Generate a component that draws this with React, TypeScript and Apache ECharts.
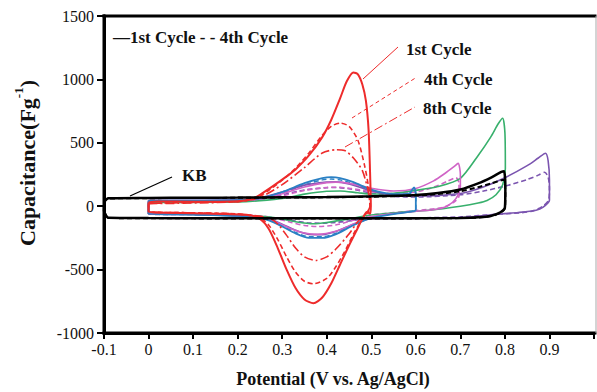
import React, { useEffect, useRef } from "react";
import * as echarts from "echarts";

// ---- Data (x: potential V vs Ag/AgCl, y: capacitance F/g) ----
const xTickMin = -0.1;
const xTickMax = 1.0;
const yTickMin = -1000;
const yTickMax = 1500;

const redCycle1: [number, number][] = [
  [0, 30], [0.02, 38], [0.1, 36], [0.2, 40], [0.23, 55], [0.25, 90], [0.28, 160], [0.31, 235],
  [0.33, 290], [0.36, 400], [0.39, 545], [0.41, 680], [0.43, 850], [0.445, 985], [0.46, 1055],
  [0.47, 1040], [0.48, 960], [0.488, 830], [0.494, 600], [0.497, 300], [0.499, 0], [0.497, -60],
  [0.49, -45], [0.48, -100], [0.47, -170], [0.45, -310], [0.43, -460], [0.41, -610], [0.39, -720],
  [0.37, -765], [0.35, -735], [0.33, -645], [0.31, -500], [0.29, -330], [0.27, -180], [0.25, -100],
  [0.22, -68], [0.1, -55], [0.02, -50], [0, -40], [0, 30],
];
const redCycle4: [number, number][] = [
  [0, 22], [0.1, 30], [0.2, 36], [0.24, 62], [0.27, 125], [0.3, 205], [0.33, 300], [0.36, 420],
  [0.39, 560], [0.41, 630], [0.43, 655], [0.45, 630], [0.47, 520], [0.485, 320], [0.494, 150],
  [0.498, 0], [0.494, -40], [0.48, -100], [0.46, -220], [0.44, -360], [0.42, -480], [0.4, -570],
  [0.37, -612], [0.35, -592], [0.33, -520], [0.31, -400], [0.29, -262], [0.27, -150], [0.25, -92],
  [0.2, -62], [0.1, -52], [0, -42], [0, 22],
];
const redCycle8: [number, number][] = [
  [0, 20], [0.2, 35], [0.25, 70], [0.3, 170], [0.35, 305], [0.39, 420], [0.42, 445], [0.44, 440],
  [0.46, 380], [0.48, 280], [0.493, 120], [0.497, 0], [0.49, -50], [0.47, -120], [0.45, -220],
  [0.42, -340], [0.4, -400], [0.375, -428], [0.35, -400], [0.33, -330], [0.31, -230], [0.29, -140],
  [0.27, -92], [0.2, -62], [0.1, -52], [0, -42], [0, 20],
];
const blueCycle1: [number, number][] = [
  [0, 42], [0.1, 44], [0.2, 47], [0.25, 62], [0.3, 112], [0.35, 182], [0.39, 222], [0.41, 230],
  [0.43, 222], [0.46, 190], [0.5, 130], [0.55, 95], [0.585, 100], [0.596, 148], [0.6, 100],
  [0.6, -30], [0.59, -42], [0.55, -62], [0.5, -92], [0.46, -150], [0.42, -222], [0.39, -250],
  [0.36, -250], [0.33, -215], [0.3, -160], [0.27, -112], [0.23, -82], [0.1, -66], [0, -60], [0, 42],
];
const blueCycle4: [number, number][] = [
  [0, 36], [0.1, 40], [0.2, 44], [0.25, 58], [0.3, 102], [0.35, 168], [0.39, 208], [0.41, 214],
  [0.43, 208], [0.46, 178], [0.5, 124], [0.55, 90], [0.585, 94], [0.596, 130], [0.6, 90],
  [0.6, -28], [0.59, -40], [0.55, -60], [0.5, -90], [0.46, -146], [0.42, -215], [0.39, -240],
  [0.36, -240], [0.33, -206], [0.3, -154], [0.27, -108], [0.23, -80], [0.1, -64], [0, -58], [0, 36],
];
const pinkCycle1: [number, number][] = [
  [0, 40], [0.2, 44], [0.25, 58], [0.3, 98], [0.35, 152], [0.4, 186], [0.42, 190], [0.45, 180],
  [0.5, 142], [0.55, 120], [0.6, 140], [0.64, 200], [0.666, 260], [0.685, 310], [0.695, 338],
  [0.7, 250], [0.7, 150], [0.69, 60], [0.67, 0], [0.64, -28], [0.6, -40], [0.5, -82], [0.46, -140],
  [0.42, -198], [0.38, -222], [0.35, -212], [0.32, -178], [0.29, -130], [0.26, -95], [0.2, -75],
  [0.1, -62], [0, -58], [0, 40],
];
const pinkCycle4: [number, number][] = [
  [0, 34], [0.2, 38], [0.25, 50], [0.3, 82], [0.35, 125], [0.4, 148], [0.42, 150], [0.45, 142],
  [0.5, 115], [0.55, 100], [0.6, 112], [0.64, 150], [0.67, 195], [0.69, 225], [0.697, 180],
  [0.697, 80], [0.685, 30], [0.66, -10], [0.6, -35], [0.5, -70], [0.46, -110], [0.42, -148],
  [0.38, -160], [0.35, -152], [0.32, -128], [0.29, -100], [0.26, -80], [0.2, -68], [0.1, -60],
  [0, -56], [0, 34],
];
const greenCycle1: [number, number][] = [
  [0, 30], [0.2, 33], [0.3, 62], [0.35, 95], [0.4, 118], [0.43, 120], [0.47, 106], [0.5, 96],
  [0.55, 102], [0.6, 125], [0.65, 155], [0.7, 220], [0.74, 400], [0.768, 545], [0.785, 650],
  [0.795, 694], [0.8, 580], [0.801, 300], [0.795, 170], [0.78, 90], [0.76, 45], [0.74, 25],
  [0.7, 0], [0.63, -32], [0.56, -50], [0.5, -70], [0.45, -100], [0.4, -128], [0.37, -138],
  [0.33, -122], [0.3, -100], [0.25, -80], [0.1, -65], [0, -60], [0, 30],
];
const purpleCycle1: [number, number][] = [
  [0, 46], [0.2, 50], [0.25, 66], [0.3, 112], [0.35, 166], [0.4, 190], [0.42, 192], [0.45, 176],
  [0.5, 122], [0.55, 85], [0.6, 80], [0.7, 100], [0.75, 150], [0.8, 225], [0.85, 320], [0.875, 380],
  [0.891, 418], [0.897, 360], [0.9, 205], [0.9, 47], [0.885, -10], [0.87, -32], [0.83, -50],
  [0.795, -60], [0.7, -90], [0.6, -96], [0.5, -98], [0.46, -142], [0.42, -200], [0.39, -224],
  [0.36, -222], [0.33, -190], [0.3, -142], [0.27, -102], [0.2, -76], [0.1, -66], [0, -62], [0, 46],
];
const purpleCycle4: [number, number][] = [
  [0, 40], [0.2, 44], [0.25, 56], [0.3, 90], [0.35, 128], [0.4, 146], [0.42, 148], [0.45, 138],
  [0.5, 104], [0.55, 78], [0.6, 72], [0.7, 90], [0.75, 118], [0.8, 158], [0.85, 210], [0.875, 245],
  [0.889, 268], [0.897, 230], [0.9, 140], [0.898, 47], [0.885, 0], [0.86, -40], [0.82, -56],
  [0.78, -64], [0.7, -84], [0.6, -92], [0.5, -96], [0.46, -112], [0.42, -128], [0.39, -134],
  [0.36, -132], [0.33, -118], [0.3, -100], [0.27, -86], [0.2, -74], [0.1, -66], [0, -62], [0, 40],
];
const kbCycle1: [number, number][] = [
  [-0.1, -40], [-0.098, 40], [-0.09, 62], [0, 65], [0.1, 67], [0.2, 68], [0.3, 70], [0.4, 72],
  [0.5, 78], [0.6, 88], [0.65, 104], [0.7, 132], [0.74, 180], [0.77, 228], [0.792, 270],
  [0.798, 276], [0.801, 150], [0.8, -10], [0.79, -48], [0.77, -75], [0.74, -88], [0.7, -93],
  [0.5, -96], [0.3, -96], [0.1, -95], [0, -94], [-0.09, -92], [-0.1, -40],
];
const kbCycle4: [number, number][] = [
  [-0.1, -38], [-0.098, 38], [-0.09, 60], [0, 63], [0.1, 65], [0.2, 66], [0.3, 68], [0.4, 70],
  [0.5, 75], [0.6, 84], [0.65, 96], [0.7, 118], [0.74, 150], [0.77, 180], [0.792, 205],
  [0.798, 208], [0.801, 100], [0.8, -20], [0.79, -52], [0.77, -78], [0.74, -90], [0.7, -94],
  [0.5, -97], [0.3, -97], [0.1, -96], [0, -95], [-0.09, -93], [-0.1, -38],
];

const SERIF = "'Liberation Serif', 'Times New Roman', serif";
const RED = "#ee2b2b";
const BLUE = "#2a80c4";
const PINK = "#d064c6";
const GREEN = "#38b06c";
const PURPLE = "#7b55b0";
const BLACK = "#000000";
const TEXT = "#111111";
const FRAME = "#000000";

function mk(data: [number, number][], color: string, type: any, width: number) {
  return {
    type: "line",
    data,
    showSymbol: false,
    symbol: "none",
    smooth: 0.25,
    lineStyle: { color, width, type },
    silent: true,
  };
}

function label(text: string, x: number, y: number) {
  return {
    type: "text", x, y,
    style: { text, fontFamily: SERIF, fontWeight: "bold", fontSize: 17, fill: TEXT, textVerticalAlign: "middle" },
  };
}

export default function App() {
  const ref = useRef<HTMLDivElement>(null);
  useEffect(() => {
    if (!ref.current) return;
    const chart = echarts.init(ref.current, undefined, { renderer: "svg" });
    const dash = [5, 3];
    const dashDot = [9, 3, 2, 3];
    const option: any = {
      animation: false,
      grid: { left: 104, right: 1, top: 16, bottom: 59 },
      xAxis: {
        type: "value",
        min: xTickMin,
        max: xTickMax,
        interval: 0.1,
        axisLine: { show: true, onZero: false, lineStyle: { color: FRAME, width: 3 } },
        axisTick: { show: true, length: 6, lineStyle: { color: FRAME, width: 2 } },
        splitLine: { show: false },
        axisLabel: {
          margin: 8,
          color: TEXT,
          fontFamily: SERIF,
          fontSize: 16,
          formatter: (v: number) => {
            const r = Math.round(v * 10) / 10;
            if (r >= 1) return "";
            return r === 0 ? "0" : String(r);
          },
        },
      },
      yAxis: {
        type: "value",
        min: yTickMin,
        max: yTickMax,
        interval: 500,
        axisLine: { show: true, onZero: false, lineStyle: { color: FRAME, width: 3 } },
        axisTick: { show: true, length: 7, lineStyle: { color: FRAME, width: 2 } },
        splitLine: { show: false },
        axisLabel: {
          margin: 10,
          color: TEXT,
          fontFamily: SERIF,
          fontSize: 16,
          formatter: (v: number) => String(Math.round(v)),
        },
      },
      series: [
        mk(purpleCycle4, PURPLE, dash, 1.6),
        mk(pinkCycle4, PINK, dash, 1.6),
        mk(blueCycle4, BLUE, dash, 1.4),
        mk(greenCycle1, GREEN, "solid", 1.6),
        mk(purpleCycle1, PURPLE, "solid", 1.6),
        mk(pinkCycle1, PINK, "solid", 1.6),
        mk(blueCycle1, BLUE, "solid", 1.8),
        mk(redCycle8, RED, dashDot, 1.6),
        mk(redCycle4, RED, dash, 1.6),
        mk(redCycle1, RED, "solid", 2),
        mk(kbCycle4, BLACK, dash, 2),
        mk(kbCycle1, BLACK, "solid", 2.5),
      ],
      graphic: [
        // frame: thick black top / left / bottom, thin grey right
        { type: "rect", z: 100, shape: { x: 102.5, y: 14.5, width: 494, height: 3 }, style: { fill: FRAME } },
        { type: "rect", z: 100, shape: { x: 102.5, y: 14.5, width: 3, height: 320 }, style: { fill: FRAME } },
        { type: "rect", z: 100, shape: { x: 102.5, y: 331.5, width: 494, height: 3 }, style: { fill: FRAME } },
        { type: "rect", z: 100, shape: { x: 595.5, y: 16, width: 1, height: 317 }, style: { fill: "#aaaaaa" } },
        label("\u20141st Cycle - - 4th Cycle", 113, 37),
        { type: "line", shape: { x1: 363, y1: 79, x2: 398, y2: 47 }, style: { stroke: RED, lineWidth: 1 } },
        { type: "line", shape: { x1: 352, y1: 118, x2: 417, y2: 77 }, style: { stroke: RED, lineWidth: 1, lineDash: [4, 3] } },
        { type: "line", shape: { x1: 345, y1: 147, x2: 415, y2: 107 }, style: { stroke: RED, lineWidth: 1, lineDash: [9, 3, 2, 3] } },
        { type: "line", shape: { x1: 130, y1: 196, x2: 172, y2: 177 }, style: { stroke: BLACK, lineWidth: 1.2 } },
        label("1st Cycle", 406, 49),
        label("4th Cycle", 424, 79),
        label("8th Cycle", 423, 108),
        label("KB", 182, 175),
        {
          type: "text", x: 333, y: 379,
          style: {
            text: "Potential (V vs. Ag/AgCl)",
            fontFamily: SERIF, fontWeight: "bold", fontSize: 18, fill: TEXT,
            textAlign: "center", textVerticalAlign: "middle",
          },
        },
        {
          type: "text", x: 25, y: 163, rotation: Math.PI / 2,
          style: {
            text: "{a|Capacitance(Fg}{s|-1}{a|)}",
            textAlign: "center",
            textVerticalAlign: "middle",
            rich: {
              a: { fontFamily: SERIF, fontWeight: "bold", fontSize: 22, fill: TEXT, lineHeight: 26, verticalAlign: "bottom" },
              s: { fontFamily: SERIF, fontWeight: "bold", fontSize: 13, fill: TEXT, lineHeight: 26, verticalAlign: "top" },
            },
          },
        },
      ],
    };
    chart.setOption(option);
    return () => chart.dispose();
  }, []);
  return (
    <div
      ref={ref}
      style={{ position: "fixed", left: 0, top: 0, width: 597, height: 392, background: "#ffffff" }}
    />
  );
}
